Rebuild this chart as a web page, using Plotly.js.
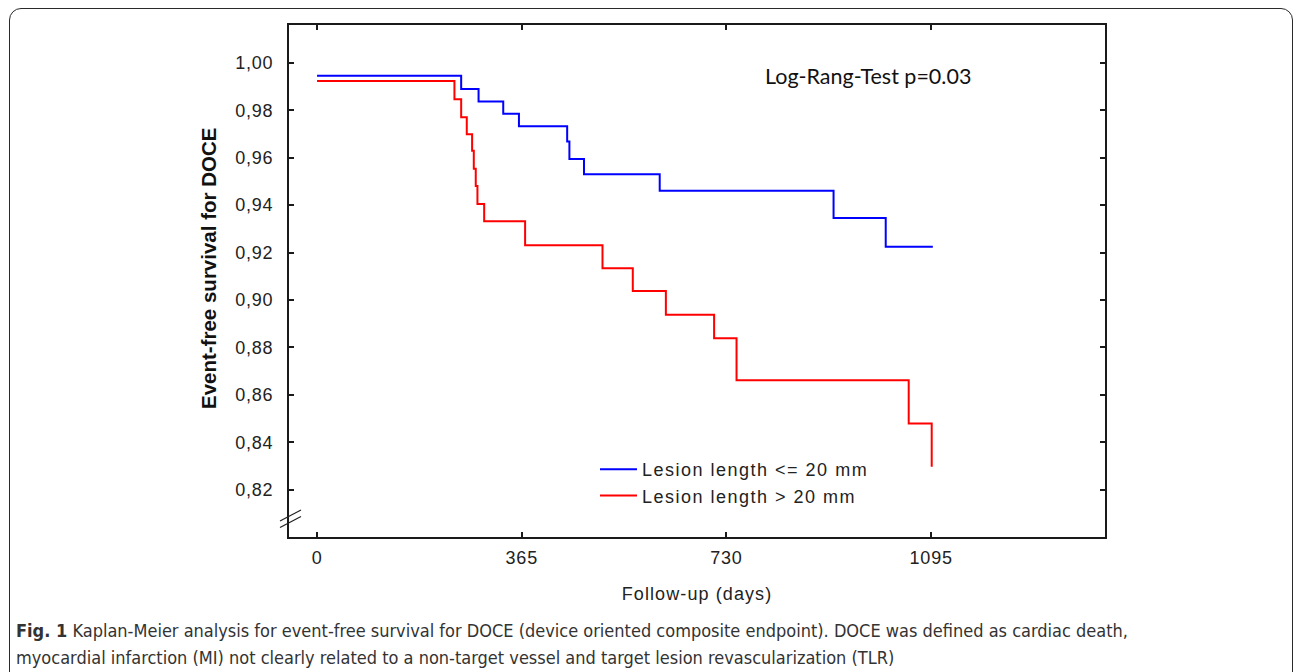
<!DOCTYPE html>
<html>
<head>
<meta charset="utf-8">
<script src="https://cdn.plot.ly/plotly-3.0.1.min.js"></script>
<style>
  html, body { margin: 0; padding: 0; background: #fff; overflow: hidden; }
  #wrap { position: relative; width: 1293px; height: 672px; }
  #frame { position: absolute; left: 9px; top: 8px; width: 1284px; height: 720px;
           border: 1.5px solid #2a2a2a; border-radius: 12px; box-sizing: border-box; }
  #chart { position: absolute; left: 0; top: 0; width: 1293px; height: 672px; }
  #chart .xtick text, #chart .ytick text { letter-spacing: 0.8px; }
  #chart .legendtext { letter-spacing: 1.5px; }
  #chart .legend .scrollbox { clip-path: none !important; }
  #chart .g-xtitle text { letter-spacing: 1.1px; }
</style>
</head>
<body>
<div id="wrap">
  <div id="frame"></div>
  <div id="chart"></div>
</div>
<script>
// ---- data ----
const shortLabel = "Lesion length <= 20 mm";
const longLabel  = "Lesion length > 20 mm";

const shortDays = [0, 257, 288, 332, 360, 446, 450, 476, 611, 921, 1014, 1098];
const shortSurv = [0.9946, 0.9890, 0.9837, 0.9786, 0.9733, 0.9668, 0.9595, 0.9530, 0.9461, 0.9346, 0.9224, 0.9224];

const longDays = [0, 245, 257, 267, 276.5, 279.5, 283, 286, 298, 371, 509, 563, 622, 708, 748, 1055, 1096];
const longSurv = [0.9924, 0.9847, 0.9771, 0.9699, 0.9629, 0.9554, 0.9481, 0.9405, 0.9332, 0.9231, 0.9134, 0.9038, 0.8938, 0.8839, 0.8661, 0.8479, 0.8296];

const xTickVals = [0, 365, 730, 1095];
const yTickVals = [0.82, 0.84, 0.86, 0.88, 0.90, 0.92, 0.94, 0.96, 0.98, 1.00];

const testText = "Log-Rang-Test p=0.03";
const xTitle = "Follow-up (days)";
const yTitle = "Event-free survival for DOCE";
const caption1 = "<b>Fig. 1</b> Kaplan-Meier analysis for event-free survival for DOCE (device oriented composite endpoint). DOCE was defined as cardiac death,";
const caption2 = "myocardial infarction (MI) not clearly related to a non-target vessel and target lesion revascularization (TLR)";

// ---- layout helpers ----
const W = 1293, H = 672;
const mL = 289, mR = 188, mT = 25, mB = 135;
const pw = W - mL - mR, ph = H - mT - mB;
const px = x => (x - mL) / pw;
const py = y => (H - mB - y) / ph;

const baseFont = "Liberation Sans, Arial, sans-serif";
const capFont = "Liberation Sans Narrow, DejaVu Sans Condensed, DejaVu Sans, sans-serif";

const traces = [
  { x: shortDays, y: shortSurv, name: shortLabel, type: 'scatter', mode: 'lines',
    line: { shape: 'hv', color: '#0000ff', width: 2 }, legendgroup: 'a' },
  { x: longDays, y: longSurv, name: longLabel, type: 'scatter', mode: 'lines',
    line: { shape: 'hv', color: '#ff0000', width: 2 }, legendgroup: 'b' }
];

const axisCommon = {
  showline: true, linecolor: '#1a1a1a', linewidth: 2, mirror: 'ticks',
  ticks: 'inside', ticklen: 5, tickwidth: 2, tickcolor: '#1a1a1a',
  showgrid: false, zeroline: false,
  tickfont: { family: baseFont, size: 18, color: '#222' }
};

const layout = {
  width: W, height: H,
  margin: { l: mL, r: mR, t: mT, b: mB },
  paper_bgcolor: 'rgba(0,0,0,0)', plot_bgcolor: 'rgba(0,0,0,0)',
  separators: ',.',
  showlegend: true,
  legend: {
    x: px(595), y: py(451), xanchor: 'left', yanchor: 'top',
    bgcolor: 'rgba(0,0,0,0)', borderwidth: 0,
    font: { family: baseFont, size: 18, color: '#222' },
    traceorder: 'grouped', tracegroupgap: 0, itemwidth: 37
  },
  xaxis: Object.assign({}, axisCommon, {
    range: [-50, 1405], tickvals: xTickVals, ticktext: xTickVals.map(String),
    ticklabelstandoff: 3,
    title: { text: xTitle, font: { family: baseFont, size: 18, color: '#222' }, standoff: 21 },
    automargin: false
  }),
  yaxis: Object.assign({}, axisCommon, {
    range: [0.80, 1.016], tickvals: yTickVals, tickformat: '.2f',
    ticklabelstandoff: 10,
    automargin: false
  }),
  annotations: [
    { text: '<b>' + yTitle + '</b>', xref: 'paper', yref: 'paper', x: px(208), y: py(269),
      xanchor: 'center', yanchor: 'middle', showarrow: false, textangle: -90,
      font: { family: baseFont, size: 20.5, color: '#111' } },
    { text: testText, xref: 'paper', yref: 'paper', x: px(868), y: py(76),
      xanchor: 'center', yanchor: 'middle', showarrow: false,
      font: { family: 'Lato, Carlito, Calibri, sans-serif', size: 21.5, color: '#111' } },
    { text: caption1, xref: 'paper', yref: 'paper', x: px(14), y: py(630),
      xanchor: 'left', yanchor: 'middle', showarrow: false, align: 'left',
      font: { family: capFont, size: 18, color: '#333' } },
    { text: caption2, xref: 'paper', yref: 'paper', x: px(14), y: py(657),
      xanchor: 'left', yanchor: 'middle', showarrow: false, align: 'left',
      font: { family: capFont, size: 18, color: '#333' } }
  ],
  shapes: [
    // axis-break marks on the y axis
    { type: 'line', xref: 'paper', yref: 'paper', x0: px(280), y0: py(521), x1: px(301), y1: py(510),
      line: { color: '#222', width: 1.2 } },
    { type: 'line', xref: 'paper', yref: 'paper', x0: px(280), y0: py(527.5), x1: px(301), y1: py(516.5),
      line: { color: '#222', width: 1.2 } }
  ]
};

Plotly.newPlot('chart', traces, layout, { displayModeBar: false, staticPlot: true });
</script>
</body>
</html>
